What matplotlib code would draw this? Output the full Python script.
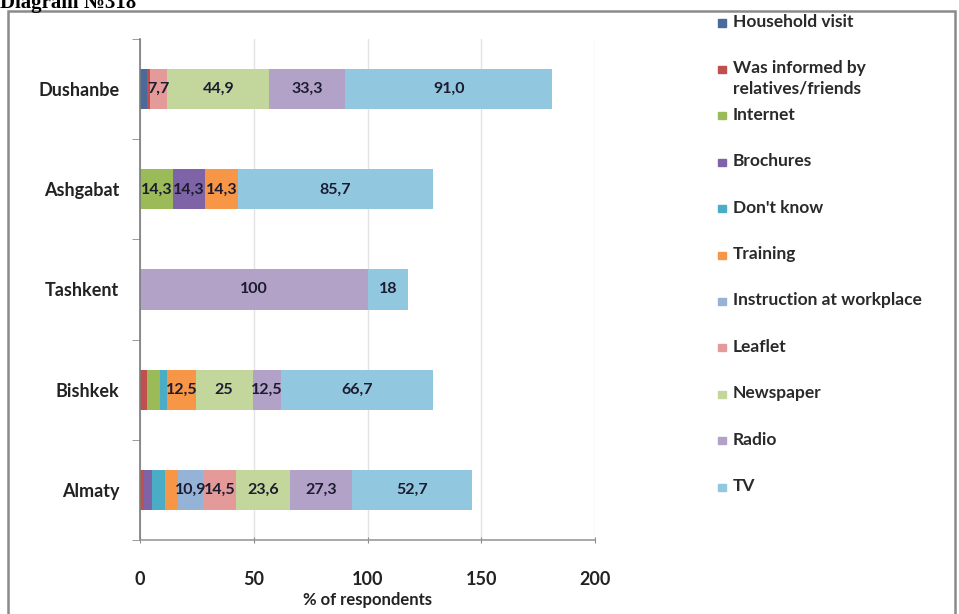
import matplotlib
matplotlib.use('Agg')
import matplotlib.pyplot as plt
from matplotlib.patches import Rectangle

plt.rcParams['font.family'] = ['Lato', 'DejaVu Sans']

# categories, bottom to top
cities = ['Almaty', 'Bishkek', 'Tashkent', 'Ashgabat', 'Dushanbe']

series_names = ['Household visit', 'Was informed by\nrelatives/friends', 'Internet',
                'Brochures', "Don't know", 'Training', 'Instruction at workplace',
                'Leaflet', 'Newspaper', 'Radio', 'TV']

household = [0, 0, 0, 0, 3.0]
informed = [1.8, 3.0, 0, 0, 1.3]
internet = [0, 6.0, 0, 14.3, 0]
brochures = [3.5, 0, 0, 14.3, 0]
dont_know = [5.5, 3.0, 0, 0, 0]
training = [6.0, 12.5, 0, 14.3, 0]
instruction = [10.9, 0, 0, 0, 0]
leaflet = [14.5, 0, 0, 0, 7.7]
newspaper = [23.6, 25, 0, 0, 44.9]
radio = [27.3, 12.5, 100, 0, 33.3]
tv = [52.7, 66.7, 18, 85.7, 91.0]

# data labels as printed on the chart ('' = not shown)
internet_lbl = ['', '', '', '14,3', '']
brochures_lbl = ['', '', '', '14,3', '']
training_lbl = ['', '12,5', '', '14,3', '']
instruction_lbl = ['10,9', '', '', '', '']
leaflet_lbl = ['14,5', '', '', '', '7,7']
newspaper_lbl = ['23,6', '25', '', '', '44,9']
radio_lbl = ['27,3', '12,5', '100', '', '33,3']
tv_lbl = ['52,7', '66,7', '18', '85,7', '91,0']
no_lbl = ['', '', '', '', '']

values = [household, informed, internet, brochures, dont_know, training,
          instruction, leaflet, newspaper, radio, tv]
labels = [no_lbl, no_lbl, internet_lbl, brochures_lbl, no_lbl, training_lbl,
          instruction_lbl, leaflet_lbl, newspaper_lbl, radio_lbl, tv_lbl]
colors = ['#4A6A9C', '#C0504D', '#9BBB59', '#7E64A6', '#4BACC6', '#F79646',
          '#95B3D7', '#E49A98', '#C3D69B', '#B3A2C7', '#92C8DF']

fig = plt.figure(figsize=(9.59, 6.14), dpi=100)
W, H = 959, 614

# outer chart frame + title (cut at the top edge, as in the source scan)
fig.patches.append(Rectangle((8 / W, -0.05), 947 / W, 1 - 11 / H + 0.05, transform=fig.transFigure,
                             fill=False, edgecolor='#8a8a8a', linewidth=1.8))
fig.text(0.0, 1 - 8 / H, 'Diagram №318', family='Liberation Serif', fontweight='bold',
         fontsize=15, va='baseline', ha='left')

ax = fig.add_axes([140 / W, 1 - 540 / H, 455 / W, 501 / H])

ypos = list(range(len(cities)))
left = [0] * len(cities)
for vals, lbls, col, name in zip(values, labels, colors, series_names):
    bars = ax.barh(ypos, vals, height=0.4, left=left, color=col, label=name)
    ax.bar_label(bars, labels=lbls, label_type='center', fontsize=11.5,
                 fontweight='bold', color='#1c1c30')
    left = [a + b for a, b in zip(left, vals)]

ax.set_xlim(0, 200)
ax.set_ylim(-0.5, 4.5)
ax.set_xticks([0, 50, 100, 150, 200])
ax.set_yticks(ypos)
ax.set_yticklabels(cities, fontsize=13, fontweight='bold', color='#222222')
ax.set_yticks([-0.5, 0.5, 1.5, 2.5, 3.5, 4.5], minor=True)
ax.tick_params(axis='y', which='major', length=0, pad=15)
ax.tick_params(axis='y', which='minor', length=6, color='#8a8a8a', direction='out')
ax.tick_params(axis='x', length=5, color='#8a8a8a', direction='inout', pad=20,
               labelsize=13, labelcolor='#222222')
for t in ax.get_xticklabels():
    t.set_fontweight('bold')
ax.set_xlabel('% of respondents', fontsize=12, fontweight='bold', color='#222222', labelpad=3)

ax.grid(axis='x', color='#e2e2e2', linewidth=1)
ax.set_axisbelow(True)
for s in ['top', 'right']:
    ax.spines[s].set_visible(False)
ax.spines['left'].set_color('#7a7a7a')
ax.spines['bottom'].set_color('#9a9a9a')
ax.spines['left'].set_linewidth(1.2)
ax.spines['bottom'].set_linewidth(1.2)

# legend on the right, Excel style
for i, (name, col) in enumerate(zip(series_names, colors)):
    yc = 1 - (23 + i * 46.4) / H
    fig.patches.append(Rectangle((718 / W, yc - 3.5 / H), 8 / W, 7 / H,
                                 transform=fig.transFigure, color=col))
    fig.text(733 / W, yc + 9 / H, name, fontsize=12.5, fontweight='bold', color='#2a2a2a',
             va='top', ha='left', linespacing=1.3)

fig.savefig('out.png', dpi=100)
